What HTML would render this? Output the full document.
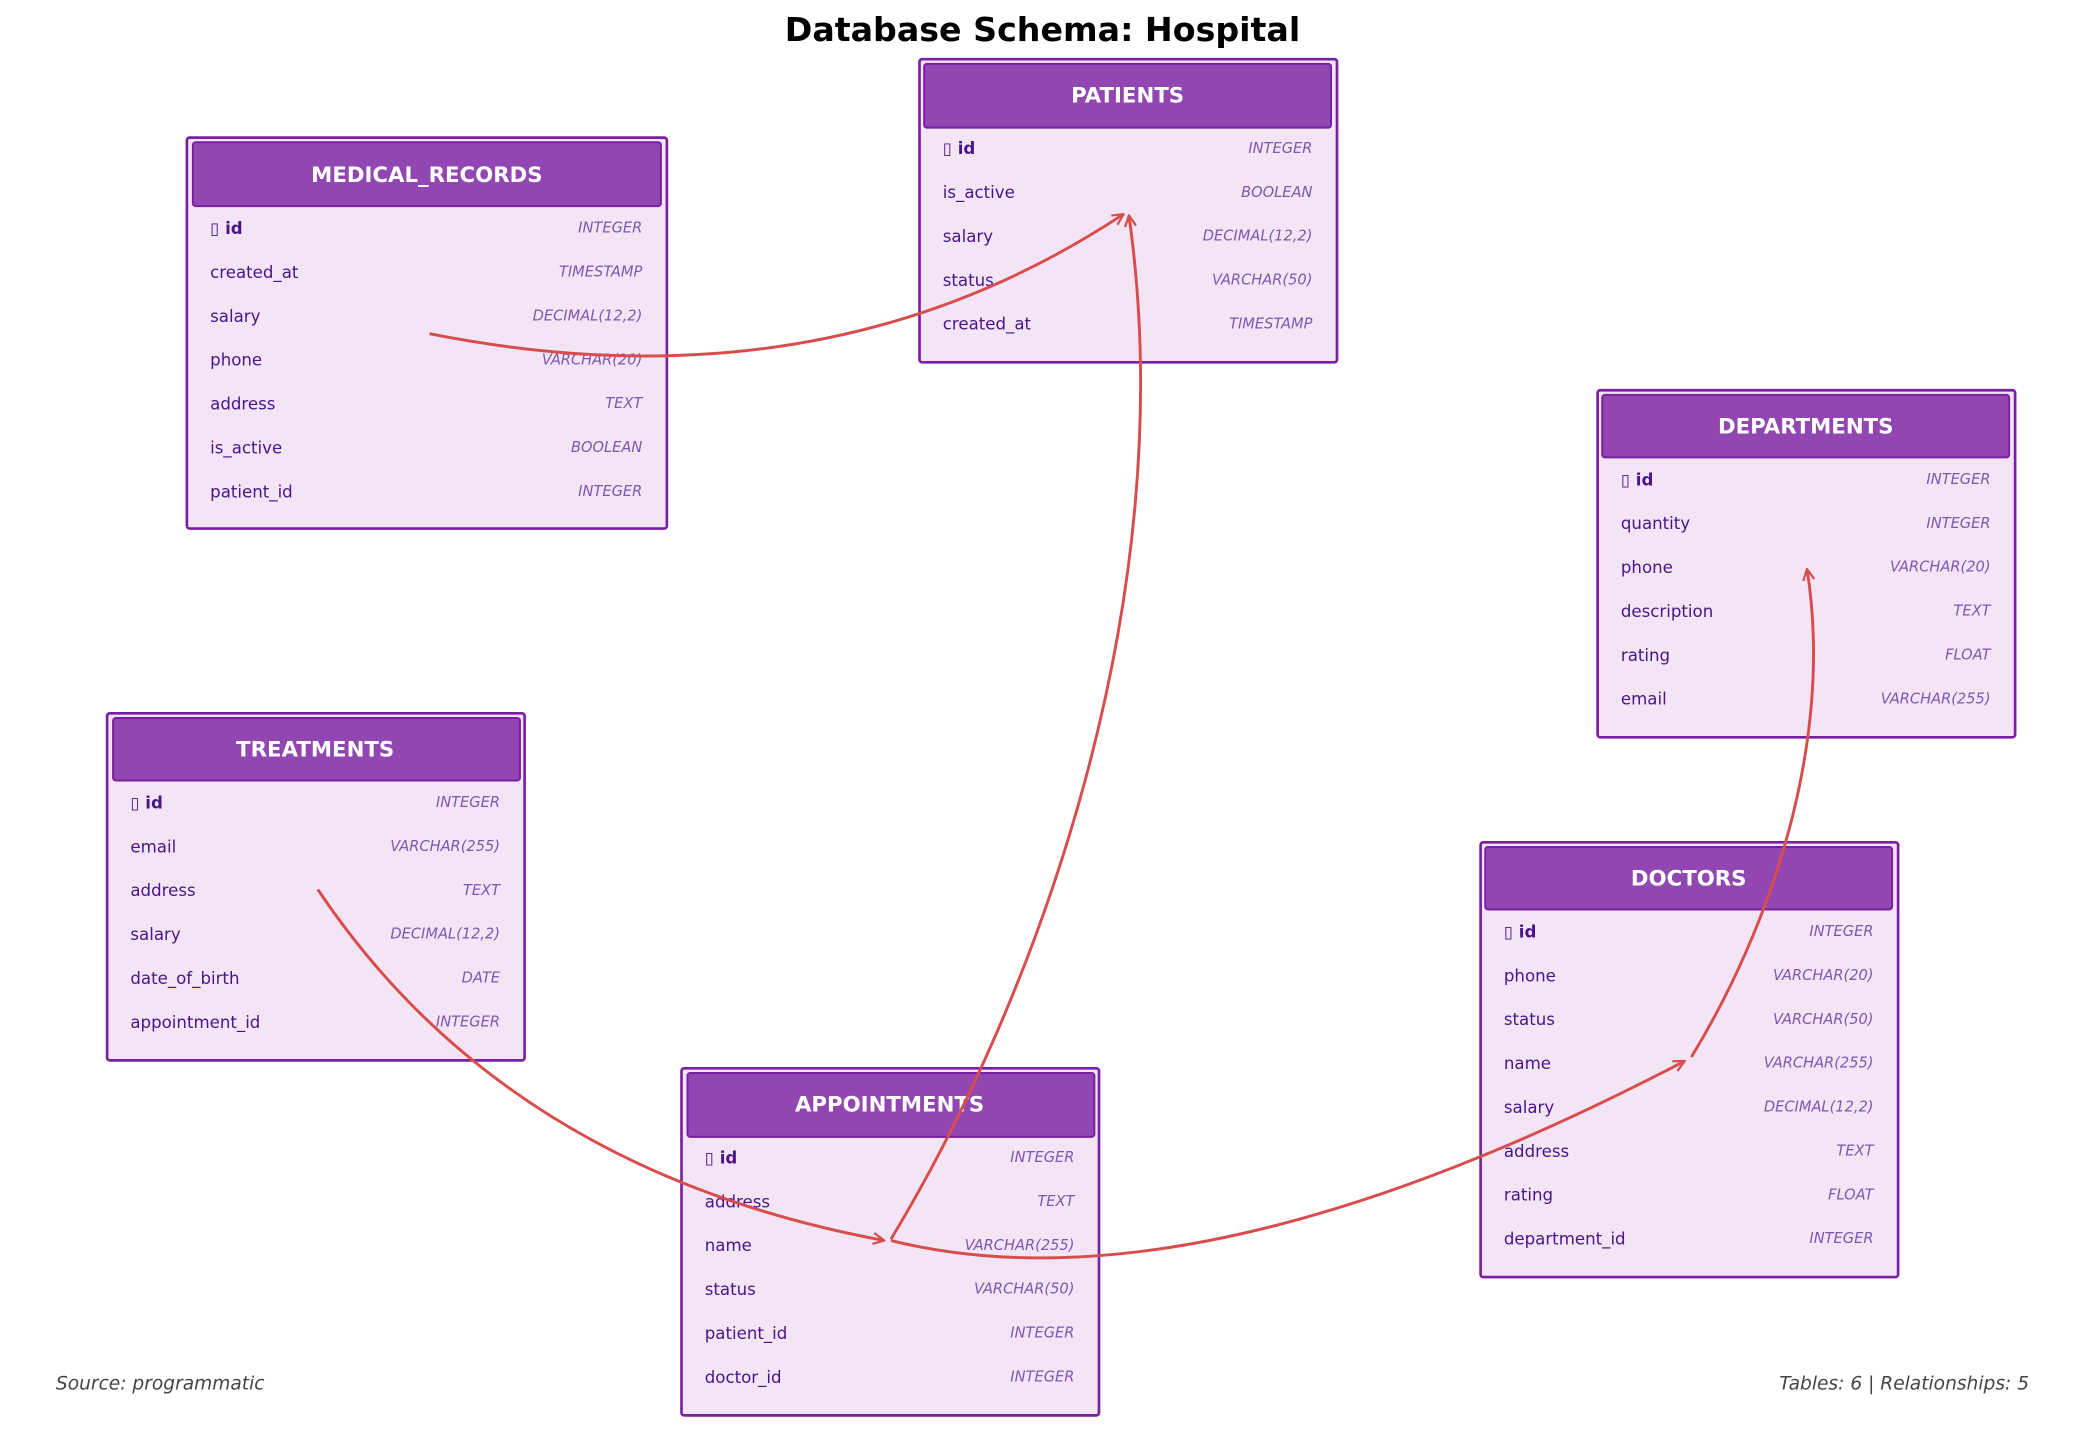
<!DOCTYPE html>
<html><head><meta charset="utf-8"><style>
html,body{margin:0;padding:0;background:#fff;}
svg{display:block;}
text{font-family:"DejaVu Sans","Liberation Sans",sans-serif;}
.h{font-size:16px;font-weight:bold;fill:#fff;text-anchor:middle;}
.n{font-size:12.5px;fill:#4a148c;}
.k{font-size:12.5px;fill:#4a148c;font-weight:bold;}
.t{font-size:11px;fill:#7e57b2;font-style:italic;text-anchor:end;}
.c{fill:none;stroke:#d94c4c;stroke-width:2.2;}
</style></head><body>
<svg width="2085" height="1432" viewBox="0 0 1568 1077" xmlns="http://www.w3.org/2000/svg">
<defs>
<marker id="a" viewBox="0 0 12 12" refX="11" refY="6" markerWidth="10" markerHeight="10" markerUnits="userSpaceOnUse" orient="auto">
<path d="M1,1 L11,6 L1,11" fill="none" stroke="#d94c4c" stroke-width="2"/>
</marker>
</defs>
<text x="784" y="31" style="font-size:25px;font-weight:bold;fill:#000;text-anchor:middle">Database Schema: Hospital</text>

<!-- MEDICAL_RECORDS -->
<rect x="140.5" y="103.5" width="361" height="294" rx="2" fill="#f3e5f5" stroke="#7b1fa2" stroke-width="2"/>
<rect x="145" y="107" width="352" height="48" rx="2" fill="#9146b1" stroke="#7b1fa2" stroke-width="1.5"/>
<text class="h" x="321" y="137">MEDICAL_RECORDS</text>
<text class="k" x="158" y="176">▯ id</text><text class="t" x="483" y="175">INTEGER</text>
<text class="n" x="158" y="209">created_at</text><text class="t" x="483" y="208">TIMESTAMP</text>
<text class="n" x="158" y="242">salary</text><text class="t" x="483" y="241">DECIMAL(12,2)</text>
<text class="n" x="158" y="275">phone</text><text class="t" x="483" y="274">VARCHAR(20)</text>
<text class="n" x="158" y="308">address</text><text class="t" x="483" y="307">TEXT</text>
<text class="n" x="158" y="341">is_active</text><text class="t" x="483" y="340">BOOLEAN</text>
<text class="n" x="158" y="374">patient_id</text><text class="t" x="483" y="373">INTEGER</text>

<!-- PATIENTS -->
<rect x="691.5" y="44.5" width="314" height="228" rx="2" fill="#f3e5f5" stroke="#7b1fa2" stroke-width="2"/>
<rect x="695" y="48" width="306" height="48" rx="2" fill="#9146b1" stroke="#7b1fa2" stroke-width="1.5"/>
<text class="h" x="848" y="77">PATIENTS</text>
<text class="k" x="709" y="116">▯ id</text><text class="t" x="987" y="115">INTEGER</text>
<text class="n" x="709" y="149">is_active</text><text class="t" x="987" y="148">BOOLEAN</text>
<text class="n" x="709" y="182">salary</text><text class="t" x="987" y="181">DECIMAL(12,2)</text>
<text class="n" x="709" y="215">status</text><text class="t" x="987" y="214">VARCHAR(50)</text>
<text class="n" x="709" y="248">created_at</text><text class="t" x="987" y="247">TIMESTAMP</text>

<!-- DEPARTMENTS -->
<rect x="1201.5" y="293.5" width="314" height="261" rx="2" fill="#f3e5f5" stroke="#7b1fa2" stroke-width="2"/>
<rect x="1205" y="297" width="306" height="47" rx="2" fill="#9146b1" stroke="#7b1fa2" stroke-width="1.5"/>
<text class="h" x="1358" y="326">DEPARTMENTS</text>
<text class="k" x="1219" y="365">▯ id</text><text class="t" x="1497" y="364">INTEGER</text>
<text class="n" x="1219" y="398">quantity</text><text class="t" x="1497" y="397">INTEGER</text>
<text class="n" x="1219" y="431">phone</text><text class="t" x="1497" y="430">VARCHAR(20)</text>
<text class="n" x="1219" y="464">description</text><text class="t" x="1497" y="463">TEXT</text>
<text class="n" x="1219" y="497">rating</text><text class="t" x="1497" y="496">FLOAT</text>
<text class="n" x="1219" y="530">email</text><text class="t" x="1497" y="529">VARCHAR(255)</text>

<!-- TREATMENTS -->
<rect x="80.5" y="536.5" width="314" height="261" rx="2" fill="#f3e5f5" stroke="#7b1fa2" stroke-width="2"/>
<rect x="85" y="540" width="306" height="47" rx="2" fill="#9146b1" stroke="#7b1fa2" stroke-width="1.5"/>
<text class="h" x="237" y="569">TREATMENTS</text>
<text class="k" x="98" y="608">▯ id</text><text class="t" x="376" y="607">INTEGER</text>
<text class="n" x="98" y="641">email</text><text class="t" x="376" y="640">VARCHAR(255)</text>
<text class="n" x="98" y="674">address</text><text class="t" x="376" y="673">TEXT</text>
<text class="n" x="98" y="707">salary</text><text class="t" x="376" y="706">DECIMAL(12,2)</text>
<text class="n" x="98" y="740">date_of_birth</text><text class="t" x="376" y="739">DATE</text>
<text class="n" x="98" y="773">appointment_id</text><text class="t" x="376" y="772">INTEGER</text>

<!-- APPOINTMENTS -->
<rect x="512.5" y="803.5" width="314" height="261" rx="2" fill="#f3e5f5" stroke="#7b1fa2" stroke-width="2"/>
<rect x="517" y="807" width="306" height="48" rx="2" fill="#9146b1" stroke="#7b1fa2" stroke-width="1.5"/>
<text class="h" x="669" y="836">APPOINTMENTS</text>
<text class="k" x="530" y="875">▯ id</text><text class="t" x="808" y="874">INTEGER</text>
<text class="n" x="530" y="908">address</text><text class="t" x="808" y="907">TEXT</text>
<text class="n" x="530" y="941">name</text><text class="t" x="808" y="940">VARCHAR(255)</text>
<text class="n" x="530" y="974">status</text><text class="t" x="808" y="973">VARCHAR(50)</text>
<text class="n" x="530" y="1007">patient_id</text><text class="t" x="808" y="1006">INTEGER</text>
<text class="n" x="530" y="1040">doctor_id</text><text class="t" x="808" y="1039">INTEGER</text>

<!-- DOCTORS -->
<rect x="1113.5" y="633.5" width="314" height="327" rx="2" fill="#f3e5f5" stroke="#7b1fa2" stroke-width="2"/>
<rect x="1117" y="637" width="306" height="47" rx="2" fill="#9146b1" stroke="#7b1fa2" stroke-width="1.5"/>
<text class="h" x="1270" y="666">DOCTORS</text>
<text class="k" x="1131" y="705">▯ id</text><text class="t" x="1409" y="704">INTEGER</text>
<text class="n" x="1131" y="738">phone</text><text class="t" x="1409" y="737">VARCHAR(20)</text>
<text class="n" x="1131" y="771">status</text><text class="t" x="1409" y="770">VARCHAR(50)</text>
<text class="n" x="1131" y="804">name</text><text class="t" x="1409" y="803">VARCHAR(255)</text>
<text class="n" x="1131" y="837">salary</text><text class="t" x="1409" y="836">DECIMAL(12,2)</text>
<text class="n" x="1131" y="870">address</text><text class="t" x="1409" y="869">TEXT</text>
<text class="n" x="1131" y="903">rating</text><text class="t" x="1409" y="902">FLOAT</text>
<text class="n" x="1131" y="936">department_id</text><text class="t" x="1409" y="935">INTEGER</text>

<!-- connectors -->
<path class="c" d="M323,251 Q620,310 845,161" marker-end="url(#a)"/>
<path class="c" d="M670,932 C780,750 890,450 849,162" marker-end="url(#a)"/>
<path class="c" d="M239,669 Q380,880 665,933" marker-end="url(#a)"/>
<path class="c" d="M670,933 Q900,990 1267,798" marker-end="url(#a)"/>
<path class="c" d="M1272,795 C1330,700 1380,560 1359,428" marker-end="url(#a)"/>

<text x="42" y="1045" style="font-size:14px;font-style:italic;fill:#444">Source: programmatic</text>
<text x="1526" y="1045" style="font-size:14px;font-style:italic;fill:#444;text-anchor:end">Tables: 6 | Relationships: 5</text>
</svg>
</body></html>
